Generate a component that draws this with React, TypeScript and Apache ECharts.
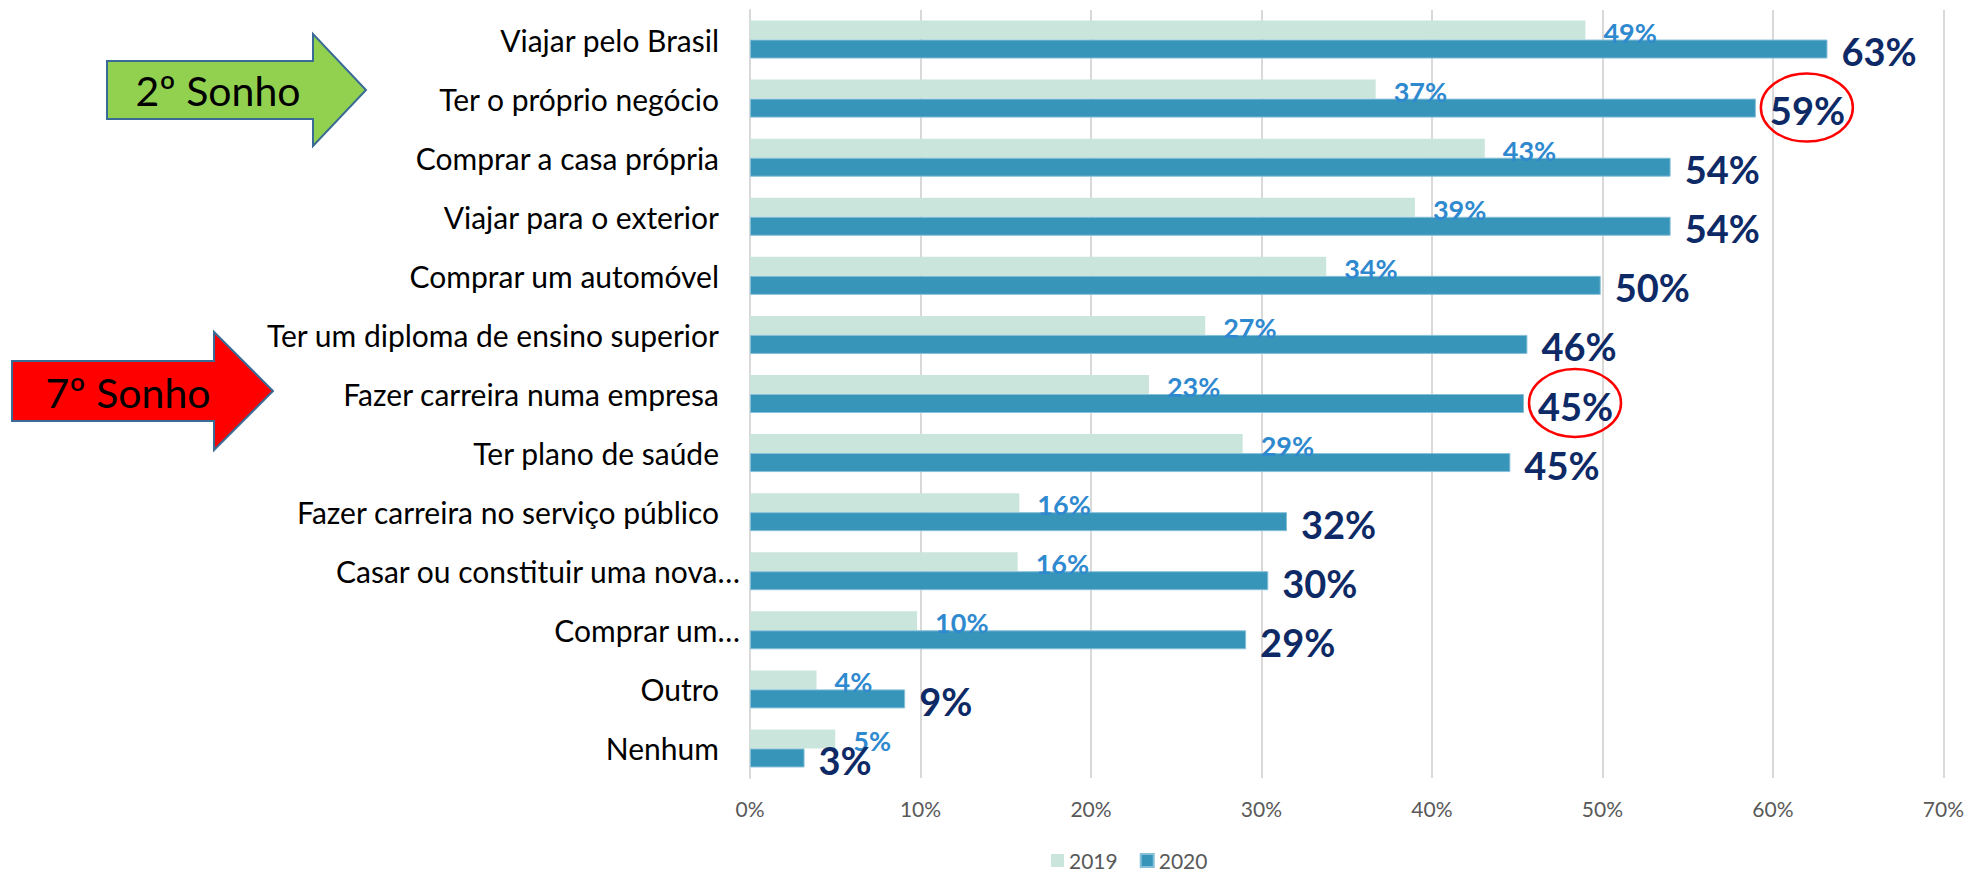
import React, { useEffect, useRef } from "react";
import * as echarts from "echarts";

const categories = [
  "Viajar pelo Brasil",
  "Ter o próprio negócio",
  "Comprar a casa própria",
  "Viajar para o exterior",
  "Comprar um automóvel",
  "Ter um diploma de ensino superior",
  "Fazer carreira numa empresa",
  "Ter plano de saúde",
  "Fazer carreira no serviço público",
  "Casar ou constituir uma nova…",
  "Comprar um…",
  "Outro",
  "Nenhum",
];
const values2019 = [49.0, 36.7, 43.1, 39.0, 33.8, 26.7, 23.4, 28.9, 15.8, 15.7, 9.8, 3.9, 5.0];
const values2020 = [63.2, 59.0, 54.0, 54.0, 49.9, 45.6, 45.4, 44.6, 31.5, 30.4, 29.1, 9.1, 3.2];
const seriesNames = ["2019", "2020"];
const highlighted = ["Ter o próprio negócio", "Fazer carreira numa empresa"];
const arrowNotes = [
  { text: "2º Sonho", fill: "#92D050" },
  { text: "7º Sonho", fill: "#FF0000" },
];

const FONT = "Lato";
const BAR_W = 19;

export default function App() {
  const ref = useRef<HTMLDivElement>(null);
  useEffect(() => {
    document.body.style.margin = "0";
    const chart = echarts.init(ref.current!, null, { renderer: "svg" });
    const option: any = {
      animation: false,
      backgroundColor: "#ffffff",
      textStyle: { fontFamily: FONT },
      grid: { left: 750, right: 23, top: 10, bottom: 95, containLabel: false },
      legend: {
        data: seriesNames,
        left: 1051,
        top: 850,
        padding: 0,
        itemWidth: 13,
        itemHeight: 13,
        itemGap: 22,
        icon: "rect",
        textStyle: { fontFamily: FONT, fontSize: 21, color: "#595959" },
      },
      xAxis: {
        type: "value",
        min: 0,
        max: 70,
        interval: 10,
        axisLine: { show: false },
        axisTick: { show: false },
        splitLine: { lineStyle: { color: "#D9D9D9", width: 2 } },
        axisLabel: {
          formatter: "{value}%",
          color: "#595959",
          fontFamily: FONT,
          fontSize: 21,
          margin: 20,
        },
      },
      yAxis: {
        type: "category",
        data: categories,
        inverse: true,
        axisLine: { show: true, lineStyle: { color: "#D9D9D9", width: 2 } },
        axisTick: { show: false },
        axisLabel: {
          margin: 10,
          interval: 0,
          formatter: (v: string) => (v.endsWith("…") ? "{t|" + v + "}" : "{n|" + v + "}"),
          rich: {
            n: { fontFamily: FONT, fontSize: 30, color: "#000000", padding: [0, 21, 0, 0] },
            t: { fontFamily: FONT, fontSize: 30, color: "#000000" },
          },
        },
      },
      series: [
        {
          name: seriesNames[0],
          type: "bar",
          data: values2019,
          barWidth: BAR_W,
          barGap: "0%",
          itemStyle: { color: "#C9E5DC" },
          label: {
            show: true,
            position: "right",
            distance: 18,
            offset: [0, 2],
            formatter: (p: any) => Math.round(p.value) + "%",
            fontFamily: FONT,
            fontWeight: "bold",
            fontSize: 27,
            color: "#2F89CF",
          },
        },
        {
          name: seriesNames[1],
          type: "bar",
          data: values2020,
          barWidth: BAR_W,
          barGap: "0%",
          itemStyle: { color: "#3795BA", borderColor: "#86BFD8", borderWidth: 1 },
          label: {
            show: true,
            position: "right",
            distance: 14,
            offset: [0, 2],
            formatter: (p: any) => Math.round(p.value) + "%",
            fontFamily: FONT,
            fontWeight: "bold",
            fontSize: 38,
            color: "#0E2A66",
          },
        },
      ],
    };
    chart.setOption(option);

    const ellipses = highlighted.map((name) => {
      const idx = categories.indexOf(name);
      const x = chart.convertToPixel({ xAxisIndex: 0 }, values2020[idx]) as number;
      const y = chart.convertToPixel({ yAxisIndex: 0 }, name) as number;
      return {
        type: "ellipse",
        shape: { cx: x + 51, cy: y + 9, rx: 46, ry: 34 },
        style: { fill: "none", stroke: "#FF0000", lineWidth: 2.5 },
        z: 100,
      };
    });

    const arrow = (x0: number, xh: number, xt: number, cy: number, bh: number, hh: number) => [
      [x0, cy - bh],
      [xh, cy - bh],
      [xh, cy - hh],
      [xt, cy],
      [xh, cy + hh],
      [xh, cy + bh],
      [x0, cy + bh],
    ];

    const arrows = [
      { pts: arrow(107, 313, 366, 90, 29, 56), tx: 218, ty: 90, note: arrowNotes[0] },
      { pts: arrow(12, 214, 273, 391, 30, 59), tx: 128, ty: 392, note: arrowNotes[1] },
    ].flatMap((a) => [
      {
        type: "polygon",
        shape: { points: a.pts },
        style: { fill: a.note.fill, stroke: "#3A6A96", lineWidth: 2 },
        z: 100,
      },
      {
        type: "text",
        x: a.tx,
        y: a.ty,
        style: {
          text: a.note.text,
          fontFamily: FONT,
          fontSize: 41,
          fill: "#000000",
          align: "center",
          verticalAlign: "middle",
        },
        z: 101,
      },
    ]);

    chart.setOption({ graphic: [...ellipses, ...arrows] });
    return () => chart.dispose();
  }, []);
  return <div ref={ref} style={{ width: 1967, height: 873 }} />;
}
